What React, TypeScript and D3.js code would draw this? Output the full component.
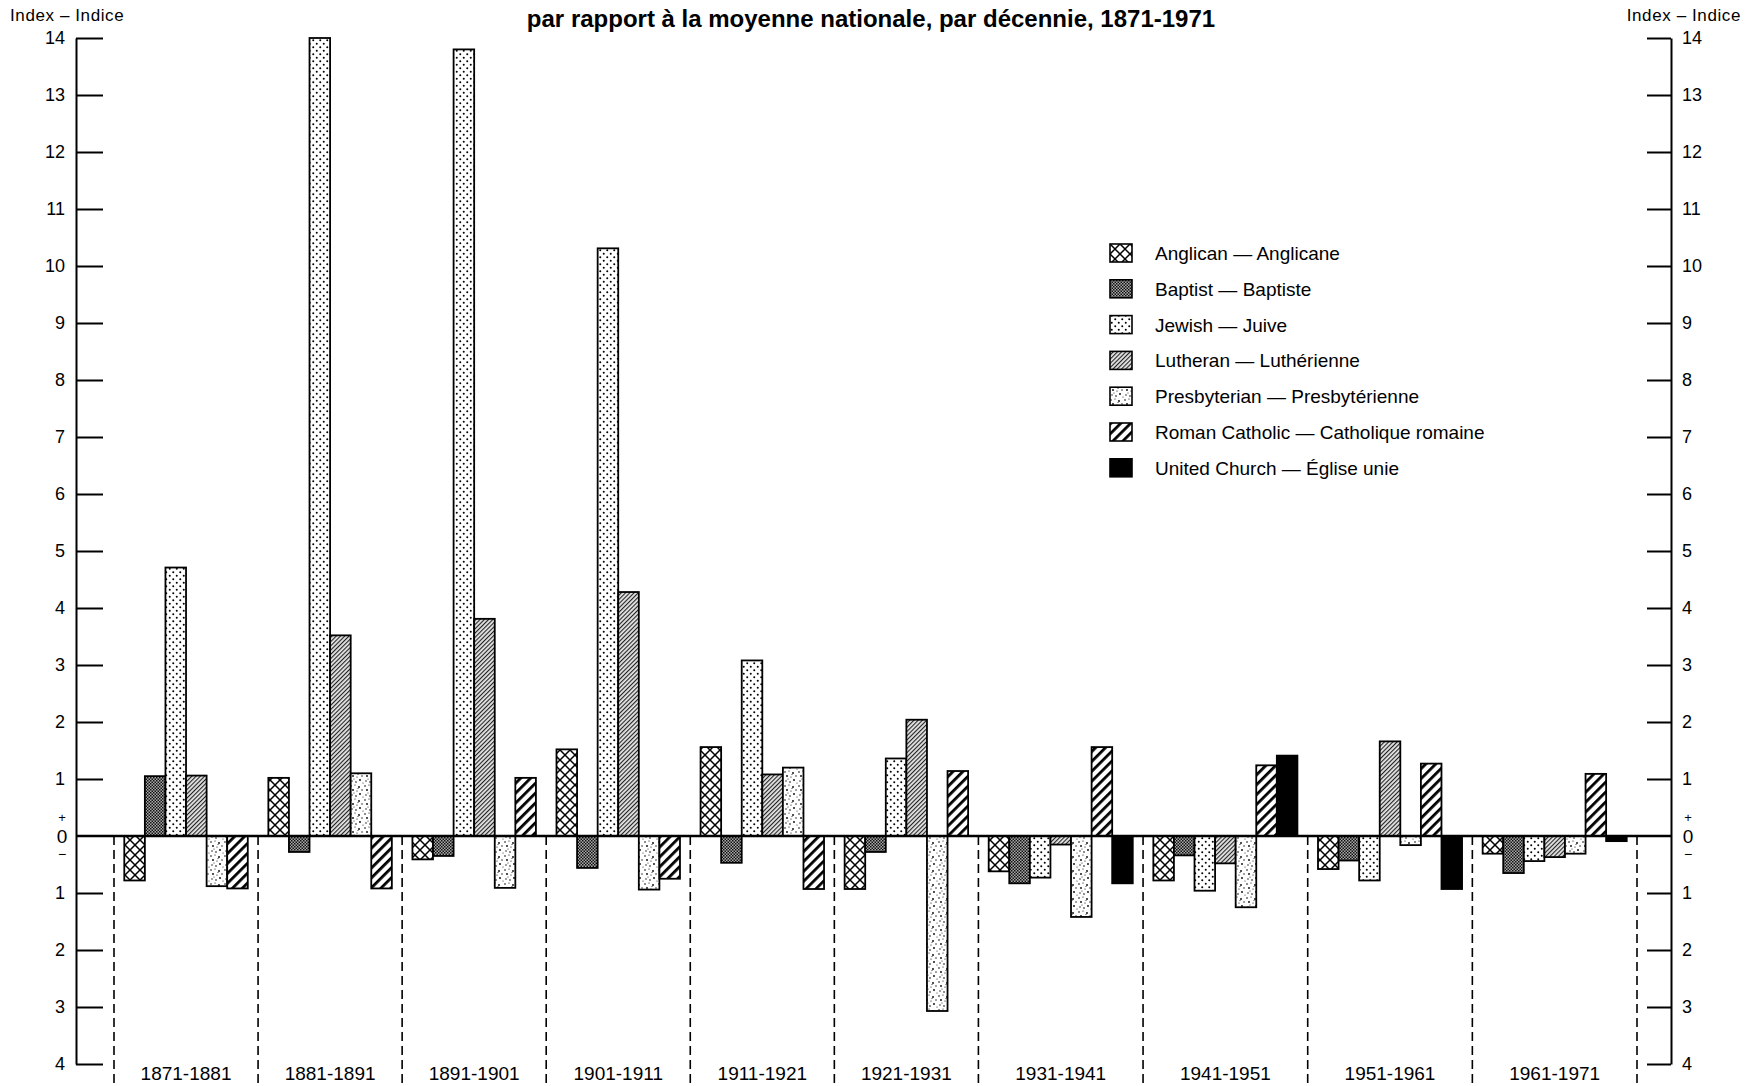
import * as d3 from "d3";
import { useEffect, useRef } from "react";

// decades
const decades = [
  "1871-1881",
  "1881-1891",
  "1891-1901",
  "1901-1911",
  "1911-1921",
  "1921-1931",
  "1931-1941",
  "1941-1951",
  "1951-1961",
  "1961-1971",
];

const legendLabels = [
  "Anglican — Anglicane",
  "Baptist — Baptiste",
  "Jewish — Juive",
  "Lutheran — Luthérienne",
  "Presbyterian — Presbytérienne",
  "Roman Catholic — Catholique romaine",
  "United Church — Église unie",
];

// index values (+ above, − below national average)
const anglican = [-0.78, 1.02, -0.41, 1.52, 1.56, -0.93, -0.62, -0.78, -0.58, -0.31];
const baptist = [1.05, -0.28, -0.35, -0.56, -0.47, -0.28, -0.83, -0.34, -0.43, -0.65];
const jewish = [4.71, 14.0, 13.8, 10.31, 3.08, 1.36, -0.73, -0.96, -0.78, -0.44];
const lutheran = [1.06, 3.52, 3.81, 4.28, 1.08, 2.04, -0.15, -0.48, 1.66, -0.37];
const presbyterian = [-0.88, 1.1, -0.91, -0.94, 1.2, -3.07, -1.42, -1.25, -0.16, -0.31];
const romanCatholic = [-0.92, -0.92, 1.02, -0.75, -0.93, 1.14, 1.56, 1.24, 1.27, 1.09];
const unitedChurch = [null, null, null, null, null, null, -0.83, 1.41, -0.93, -0.09];

const series = [anglican, baptist, jewish, lutheran, presbyterian, romanCatholic, unitedChurch];
const patternIds = ["p-angl", "p-bapt", "p-jew", "p-luth", "p-presb", "p-rc", "p-unit"];

const yTicks = [-4, -3, -2, -1, 1, 2, 3, 4, 5, 6, 7, 8, 9, 10, 11, 12, 13, 14];

const FONT = "'Liberation Sans', Arial, Helvetica, sans-serif";

export default function App() {
  const svgRef = useRef<SVGSVGElement>(null);
  const width = 1757;
  const height = 1086;

  useEffect(() => {
    if (!svgRef.current) return;
    const svg = d3.select(svgRef.current);
    svg.selectAll("*").remove();

    const axisLeftX = 76;
    const axisRightX = 1671;

    const yScale = d3.scaleLinear().domain([-4, 14]).range([1064, 38]);
    const y0 = yScale(0);

    // group layout in bar units: each group = n bars + 1 unit of padding
    const groups = decades.map((d, i) => {
      const bars = series
        .map((s, k) => ({ k, v: s[i] }))
        .filter((b) => b.v !== null) as { k: number; v: number }[];
      return { decade: d, bars };
    });
    let cum = 0;
    const starts: number[] = [];
    groups.forEach((g) => {
      starts.push(cum);
      cum += g.bars.length + 1;
    });
    starts.push(cum);
    const xScale = d3.scaleLinear().domain([0, cum]).range([114, 1637]);
    const unit = xScale(1) - xScale(0);

    // patterns
    const defs = svg.append("defs");
    const anglP = defs
      .append("pattern")
      .attr("id", "p-angl")
      .attr("patternUnits", "userSpaceOnUse")
      .attr("width", 10)
      .attr("height", 10);
    anglP.append("rect").attr("width", 10).attr("height", 10).attr("fill", "#fff");
    anglP
      .append("path")
      .attr("d", "M0,0L10,10M10,0L0,10")
      .attr("stroke", "#000")
      .attr("stroke-width", 1.5);

    const baptP = defs
      .append("pattern")
      .attr("id", "p-bapt")
      .attr("patternUnits", "userSpaceOnUse")
      .attr("width", 3)
      .attr("height", 3);
    baptP.append("rect").attr("width", 3).attr("height", 3).attr("fill", "#a8a8a8");
    baptP.append("rect").attr("width", 1.5).attr("height", 1.5).attr("fill", "#111");
    baptP
      .append("rect")
      .attr("x", 1.5)
      .attr("y", 1.5)
      .attr("width", 1.5)
      .attr("height", 1.5)
      .attr("fill", "#111");

    const jewP = defs
      .append("pattern")
      .attr("id", "p-jew")
      .attr("patternUnits", "userSpaceOnUse")
      .attr("width", 7)
      .attr("height", 7);
    jewP.append("rect").attr("width", 7).attr("height", 7).attr("fill", "#fff");
    jewP.append("circle").attr("cx", 1.75).attr("cy", 1.75).attr("r", 1).attr("fill", "#000");
    jewP.append("circle").attr("cx", 5.25).attr("cy", 5.25).attr("r", 1).attr("fill", "#000");

    const luthP = defs
      .append("pattern")
      .attr("id", "p-luth")
      .attr("patternUnits", "userSpaceOnUse")
      .attr("width", 3)
      .attr("height", 3)
      .attr("patternTransform", "rotate(45)");
    luthP.append("rect").attr("width", 3).attr("height", 3).attr("fill", "#e4e4e4");
    luthP.append("rect").attr("width", 1.1).attr("height", 3).attr("fill", "#222");

    const presbP = defs
      .append("pattern")
      .attr("id", "p-presb")
      .attr("patternUnits", "userSpaceOnUse")
      .attr("width", 14)
      .attr("height", 14);
    presbP.append("rect").attr("width", 14).attr("height", 14).attr("fill", "#fff");
    const speckles = [
      [1, 2, 0.8], [5, 1, 0.6], [9, 3, 0.9], [12, 6, 0.7], [3, 6, 0.9], [7, 7, 0.6],
      [10, 10, 0.9], [2, 11, 0.7], [6, 12, 0.8], [13, 13, 0.5], [8, 4.5, 0.5], [4, 9, 0.5],
    ];
    speckles.forEach(([cx, cy, r]) =>
      presbP.append("circle").attr("cx", cx).attr("cy", cy).attr("r", r).attr("fill", "#000"),
    );

    const rcP = defs
      .append("pattern")
      .attr("id", "p-rc")
      .attr("patternUnits", "userSpaceOnUse")
      .attr("width", 7)
      .attr("height", 7)
      .attr("patternTransform", "rotate(45)");
    rcP.append("rect").attr("width", 7).attr("height", 7).attr("fill", "#fff");
    rcP.append("rect").attr("width", 2.8).attr("height", 7).attr("fill", "#000");

    const unitP = defs
      .append("pattern")
      .attr("id", "p-unit")
      .attr("patternUnits", "userSpaceOnUse")
      .attr("width", 4)
      .attr("height", 4);
    unitP.append("rect").attr("width", 4).attr("height", 4).attr("fill", "#000");

    // headings
    svg
      .append("text")
      .attr("x", 871)
      .attr("y", 27)
      .attr("text-anchor", "middle")
      .style("font-family", FONT)
      .style("font-size", "24px")
      .style("font-weight", "bold")
      .text("par rapport à la moyenne nationale, par décennie, 1871-1971");

    svg
      .append("text")
      .attr("x", 10)
      .attr("y", 21)
      .style("font-family", FONT)
      .style("font-size", "17px")
      .style("letter-spacing", "0.6px")
      .text("Index – Indice");
    svg
      .append("text")
      .attr("x", 1741)
      .attr("y", 21)
      .attr("text-anchor", "end")
      .style("font-family", FONT)
      .style("font-size", "17px")
      .style("letter-spacing", "0.6px")
      .text("Index – Indice");

    // dashed separators
    svg
      .append("g")
      .selectAll("line")
      .data(starts)
      .enter()
      .append("line")
      .attr("x1", (d) => xScale(d))
      .attr("x2", (d) => xScale(d))
      .attr("y1", y0)
      .attr("y2", height)
      .attr("stroke", "#000")
      .attr("stroke-width", 1.6)
      .attr("stroke-dasharray", "9,5");

    // bars
    const barG = svg.append("g");
    groups.forEach((g, gi) => {
      barG
        .selectAll(`.bar-${gi}`)
        .data(g.bars)
        .enter()
        .append("rect")
        .attr("x", (_, j) => xScale(starts[gi] + 0.5 + j))
        .attr("width", unit)
        .attr("y", (b) => Math.min(yScale(b.v), y0))
        .attr("height", (b) => Math.abs(yScale(b.v) - y0))
        .attr("fill", (b) => `url(#${patternIds[b.k]})`)
        .attr("stroke", "#000")
        .attr("stroke-width", 1.8);
    });

    // decade labels
    svg
      .append("g")
      .selectAll("text")
      .data(groups)
      .enter()
      .append("text")
      .attr("x", (_, i) => (xScale(starts[i]) + xScale(starts[i + 1])) / 2)
      .attr("y", 1080)
      .attr("text-anchor", "middle")
      .style("font-family", FONT)
      .style("font-size", "19px")
      .text((d) => d.decade);

    // axes
    const fmt = (d: d3.NumberValue) => `${Math.abs(+d)}`;
    const leftAxis = svg
      .append("g")
      .attr("transform", `translate(${axisLeftX},0)`)
      .call(
        d3
          .axisLeft(yScale)
          .tickValues(yTicks)
          .tickSizeInner(-27)
          .tickSizeOuter(0)
          .tickPadding(11)
          .tickFormat(fmt),
      );
    const rightAxis = svg
      .append("g")
      .attr("transform", `translate(${axisRightX},0)`)
      .call(
        d3
          .axisRight(yScale)
          .tickValues(yTicks)
          .tickSizeInner(-24)
          .tickSizeOuter(0)
          .tickPadding(11)
          .tickFormat(fmt),
      );
    [leftAxis, rightAxis].forEach((ax) => {
      ax.selectAll(".domain, .tick line").attr("stroke", "#000").attr("stroke-width", 2);
      ax.selectAll("text")
        .attr("fill", "#000")
        .style("font-family", FONT)
        .style("font-size", "18px");
    });

    // zero line
    svg
      .append("line")
      .attr("x1", axisLeftX)
      .attr("x2", axisRightX)
      .attr("y1", y0)
      .attr("y2", y0)
      .attr("stroke", "#000")
      .attr("stroke-width", 2.6);

    // zero markers with + / −
    [
      { x: 62, anchor: "middle" },
      { x: 1688, anchor: "middle" },
    ].forEach((m) => {
      const g = svg.append("g").style("font-family", FONT).attr("text-anchor", m.anchor);
      g.append("text").attr("x", m.x).attr("y", y0 - 14).style("font-size", "13px").text("+");
      g.append("text").attr("x", m.x).attr("y", y0 + 7).style("font-size", "19px").text("0");
      g.append("text").attr("x", m.x).attr("y", y0 + 23).style("font-size", "14px").text("−");
    });

    // legend
    const legend = svg.append("g").attr("transform", "translate(1110,244)");
    const rowH = 35.8;
    legend
      .selectAll("rect")
      .data(legendLabels)
      .enter()
      .append("rect")
      .attr("x", 0)
      .attr("y", (_, i) => i * rowH)
      .attr("width", 22)
      .attr("height", 18)
      .attr("fill", (_, i) => `url(#${patternIds[i]})`)
      .attr("stroke", "#000")
      .attr("stroke-width", 1.6);
    legend
      .selectAll("text")
      .data(legendLabels)
      .enter()
      .append("text")
      .attr("x", 45)
      .attr("y", (_, i) => i * rowH + 16)
      .style("font-family", FONT)
      .style("font-size", "19px")
      .text((d) => d);
  }, []);

  return (
    <div style={{ position: "absolute", left: 0, top: 0, background: "#fff" }}>
      <svg ref={svgRef} width={width} height={height} style={{ display: "block" }} />
    </div>
  );
}
